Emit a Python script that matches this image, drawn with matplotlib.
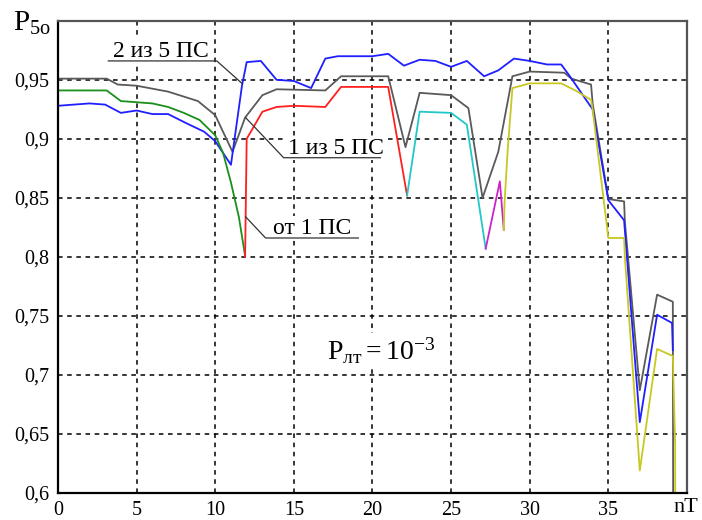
import numpy as np
import matplotlib
matplotlib.use('Agg')
import matplotlib.pyplot as plt

plt.rcParams['font.family'] = ['Liberation Serif', 'DejaVu Serif']
plt.rcParams['mathtext.fontset'] = 'custom'
plt.rcParams['mathtext.rm'] = 'Liberation Serif'
plt.rcParams['mathtext.it'] = 'Liberation Serif:italic'

# "2 из 5 ПС" (blue)
x_two = [0, 2, 3, 4, 5, 6, 7, 8.2, 9.3, 10, 11, 11.7, 12, 12.9, 13.9, 15, 16.1, 17, 17.8,
         20, 21, 22, 23, 24, 25, 26, 27.1, 28, 29, 30, 31.1, 32, 32.5, 34, 35, 36, 37,
         38.1, 39.05, 39.1]
y_two = [0.928, 0.930, 0.929, 0.922, 0.924, 0.921, 0.921, 0.913, 0.906, 0.898, 0.878, 0.945,
         0.965, 0.966, 0.950, 0.949, 0.943, 0.968, 0.970, 0.970, 0.972, 0.962, 0.967, 0.966,
         0.961, 0.966, 0.953, 0.958, 0.968, 0.966, 0.963, 0.963, 0.954, 0.925, 0.848, 0.831,
         0.660, 0.751, 0.744, 0.721]

# "1 из 5 ПС" (gray)
x_one = [0, 3.1, 3.8, 5, 7, 8.9, 10, 11.1, 11.9, 13, 13.9, 17, 18, 21, 22.1, 23, 25, 26.1,
         27, 28, 28.9, 30, 32.2, 32.65, 33.9, 34, 35, 36, 36.05, 37, 38.1, 39.1, 39.12]
y_one = [0.951, 0.951, 0.946, 0.945, 0.940, 0.932, 0.920, 0.889, 0.918, 0.937, 0.942, 0.941,
         0.953, 0.953, 0.893, 0.939, 0.937, 0.926, 0.850, 0.889, 0.953, 0.957, 0.956, 0.951,
         0.946, 0.930, 0.849, 0.847, 0.830, 0.687, 0.768, 0.762, 0.6]

# "от 1 ПС" -- pieces in different colours
x_green = [0, 3.1, 4, 6, 7, 8, 9, 10, 10.5, 11, 11.5, 11.9]
y_green = [0.941, 0.941, 0.932, 0.930, 0.927, 0.922, 0.916, 0.903, 0.888, 0.863, 0.834, 0.801]
x_red = [11.9, 11.95, 12.0, 13.0, 13.9, 15, 17, 18, 21, 22.2]
y_red = [0.800, 0.850, 0.900, 0.923, 0.927, 0.928, 0.927, 0.944, 0.944, 0.852]
x_cyan = [22.2, 23, 25, 26, 27.2]
y_cyan = [0.852, 0.923, 0.922, 0.912, 0.807]
x_mag = [27.2, 28.1, 28.35]
y_mag = [0.807, 0.864, 0.823]
x_yel = [28.35, 28.4, 28.6, 28.9, 30, 32, 32.9, 33.9, 34, 35, 36, 36.05, 37, 38.1, 39.1,
         39.25, 39.25]
y_yel = [0.823, 0.846, 0.891, 0.943, 0.947, 0.947, 0.941, 0.933, 0.925, 0.816, 0.816, 0.800,
         0.619, 0.722, 0.716, 0.640, 0.6]

xticks = [0, 5, 10, 15, 20, 25, 30, 35]
yticks = [0.6, 0.65, 0.7, 0.75, 0.8, 0.85, 0.9, 0.95]

fig = plt.figure(figsize=(7.02, 5.20), dpi=100)
ax = fig.add_axes([0.0826, 0.052, 0.896, 0.908])

ax.plot(x_one, y_one, color='#5a5a5a', lw=1.3)
ax.plot(x_two, y_two, color='#1f1fff', lw=1.3)
ax.plot(x_green, y_green, color='#1b8f1b', lw=1.3)
ax.plot(x_red, y_red, color='#ff1f1f', lw=1.3)
ax.plot(x_cyan, y_cyan, color='#22c8c8', lw=1.3)
ax.plot(x_mag, y_mag, color='#cc22cc', lw=1.3)
ax.plot(x_yel, y_yel, color='#c8c822', lw=1.3)

ax.set_xlim(0, 40)
ax.set_ylim(0.6, 1.0)
ax.set_xticks(xticks)
ax.set_yticks(yticks)
ax.set_xticklabels([str(v) for v in xticks])
ax.set_yticklabels([('%g' % v).replace('.', ',') for v in yticks])
ax.tick_params(length=0, labelsize=14.5, pad=6)
ax.grid(True, color='black', linestyle=(0, (3, 3)), lw=1.1)

for s in ['left', 'bottom']:
    ax.spines[s].set_color('black')
    ax.spines[s].set_linewidth(1.6)
for s in ['top', 'right']:
    ax.spines[s].set_color('#555555')
    ax.spines[s].set_linewidth(1.6)

lc = '#333333'
box = dict(facecolor='white', edgecolor='none', pad=1)
# labels with underline and leader
ax.text(3.5, 0.9695, '2 из 5 ПС', fontsize=17, ha='left', va='baseline', bbox=box)
ax.plot([3.2, 10.1, 11.7], [0.966, 0.966, 0.947], color=lc, lw=0.9, zorder=4)
ax.text(14.6, 0.8875, '1 из 5 ПС', fontsize=17, ha='left', va='baseline', bbox=box)
ax.plot([20.5, 14.35, 11.93], [0.884, 0.884, 0.918], color=lc, lw=0.9, zorder=4)
ax.text(13.7, 0.8195, 'от 1 ПС', fontsize=17, ha='left', va='baseline', bbox=box)
ax.plot([19.1, 13.2, 11.93], [0.816, 0.816, 0.834], color=lc, lw=0.9, zorder=4)

ax.text(17.1, 0.713, r'$\mathrm{P}_{\mathrm{лт}} = 10^{-3}$', fontsize=20, ha='left',
        va='baseline', bbox=dict(facecolor='white', edgecolor='none', pad=2))

fig.text(0.018, 0.94, r'$\mathrm{P}_{\mathrm{5о}}$', fontsize=21, ha='left', va='baseline')
fig.text(0.977, 0.006, 'nT', fontsize=16, ha='center', va='bottom')

fig.savefig('out.png', dpi=100)
